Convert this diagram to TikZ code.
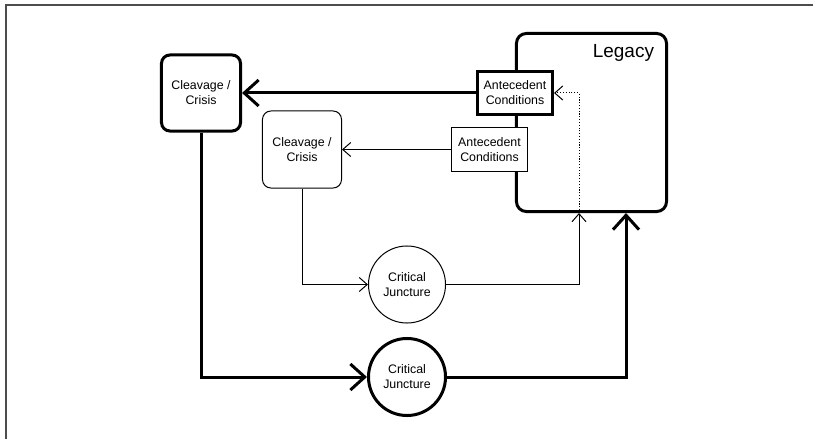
\documentclass[tikz,border=0pt]{standalone}
\usepackage{fontspec}
\setmainfont{Liberation Sans}
\usetikzlibrary{arrows.meta}

\tikzset{
  % ----- the shapes
  crisis/.style={
    rectangle, rounded corners=6pt, draw=black, fill=white, align=center,
    minimum width=1.975cm, minimum height=1.925cm, inner sep=0pt
  },
  conditions/.style={
    rectangle, draw=black, fill=white, align=center,
    minimum width=1.9cm, minimum height=1.1cm, inner sep=0pt
  },
  juncture/.style={
    circle, draw=black, fill=white, align=center,
    minimum size=1.925cm, inner sep=0pt
  },
  % ----- the line weights
  heavy/.style = {line width=0.075cm, >={Straight Barb[length=3.6mm,width=6.5mm]}},
  light/.style = {line width=0.025cm}
}

\begin{document}
\begin{tikzpicture}[
                x = 0.025cm, y = -0.025cm, % one unit per pixel, y going down
                > = {Straight Barb[length=2mm,width=3.5mm]}, % thin arrow head
                font = \fontsize{8.8}{10.7}\selectfont
            ]
        \useasboundingbox (0,0) rectangle (813,439);
        \draw[black!70, line width=0.05cm] (6,439) -- (6,5) -- (813,5);

        % legacy
        \node[rectangle, rounded corners=7pt, draw, heavy, minimum width=3.75cm,
              minimum height=4.45cm] (legacy) at (591.5,122.5) {};
        \node[font=\fontsize{13.5}{16}\selectfont, anchor=base east] (legacytxt) at (659,58) {Legacy};

        % outer path
        \node[conditions, heavy, minimum width=1.875cm, minimum height=1.075cm] (antA) at (515,93) {Antecedent\\Conditions};
        \node[crisis, heavy, minimum height=1.9cm] (crisisA) at (201,93) {Cleavage /\\Crisis};
        \node[juncture, heavy] (junctA) at (407,377) {Critical\\Juncture};

        % inner path
        \node[conditions, light] (antB) at (489.5,149.5) {Antecedent\\Conditions};
        \node[crisis, light] (crisisB) at (302,149.5) {Cleavage /\\Crisis};
        \node[juncture, light] (junctB) at (407,284.5) {Critical\\Juncture};

        \coordinate (inA) at (626,213);
        \coordinate (inB) at (579,213);

        \path[heavy, ->] (antA) edge (crisisA);
        \draw[heavy, ->] (crisisA) |- (junctA);
        \draw[heavy, ->] (junctA) -| (inA);

        \path[light, ->] (antB) edge (crisisB);
        \draw[light, ->] (crisisB) |- (junctB);
        \draw[light, ->] (junctB) -| (inB);
        \draw[light, dash pattern=on 0.8pt off 1.2pt, ->] (inB) |- (antA);
    \end{tikzpicture}
\end{document}
